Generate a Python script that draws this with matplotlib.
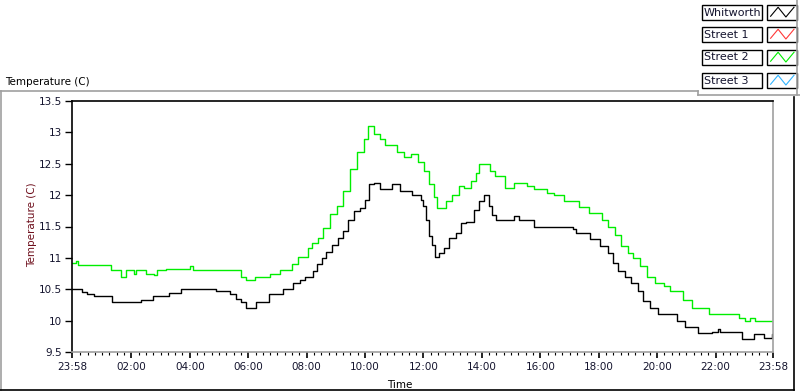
import matplotlib
matplotlib.use("Agg")
import matplotlib.pyplot as plt
from matplotlib.patches import Rectangle
from matplotlib.lines import Line2D

# Data: hours since midnight, temperature in C
whit_t = [-0.03, 0.32, 0.49, 0.72, 1.33, 2.33, 2.73, 3.30, 3.70, 4.91, 5.36, 5.59,
          5.77, 5.94, 6.26, 6.71, 7.20, 7.54, 7.77, 7.94, 8.23, 8.34, 8.52, 8.65,
          8.86, 9.09, 9.26, 9.43, 9.61, 9.83, 10.01, 10.12, 10.29, 10.52, 10.92,
          11.21, 11.61, 11.90, 11.98, 12.07, 12.18, 12.30, 12.41, 12.53, 12.70,
          12.87, 13.10, 13.27, 13.45, 13.73, 13.90, 14.08, 14.25, 14.36, 14.48,
          15.11, 15.28, 15.80, 17.11, 17.23, 17.69, 18.03, 18.32, 18.49, 18.66,
          18.89, 19.12, 19.35, 19.52, 19.75, 20.04, 20.67, 20.95, 21.41, 21.87,
          22.10, 22.16, 22.90, 23.30, 23.65, 23.93, 23.97]
whit_v = [10.5, 10.45, 10.42, 10.4, 10.3, 10.33, 10.4, 10.44, 10.5, 10.47, 10.42, 10.35,
          10.3, 10.2, 10.3, 10.42, 10.5, 10.6, 10.65, 10.7, 10.79, 10.9, 11.0, 11.1,
          11.2, 11.32, 11.43, 11.6, 11.75, 11.8, 11.93, 12.18, 12.2, 12.1, 12.18,
          12.07, 12.0, 11.93, 11.82, 11.6, 11.35, 11.2, 11.01, 11.08, 11.16,
          11.32, 11.4, 11.55, 11.57, 11.76, 11.9, 12.0, 11.82, 11.69, 11.6,
          11.66, 11.6, 11.5, 11.46, 11.4, 11.3, 11.19, 11.08, 10.92, 10.79,
          10.7, 10.6, 10.48, 10.31, 10.2, 10.11, 10.0, 9.9, 9.8, 9.82,
          9.87, 9.82, 9.7, 9.78, 9.72, 9.78, 9.78]

st2_t = [-0.03, 0.09, 0.18, 1.30, 1.64, 1.81, 2.10, 2.16, 2.50, 2.79, 2.87, 3.19,
         3.99, 4.10, 5.77, 5.94, 6.22, 6.74, 7.08, 7.49, 7.71, 8.06, 8.17, 8.40,
         8.57, 8.80, 9.03, 9.26, 9.49, 9.72, 9.95, 10.10, 10.32, 10.52, 10.69,
         11.10, 11.32, 11.59, 11.82, 12.01, 12.18, 12.36, 12.47, 12.76, 12.99,
         13.22, 13.39, 13.62, 13.79, 13.90, 14.28, 14.45, 14.80, 15.11, 15.53,
         15.77, 16.23, 16.48, 16.80, 17.32, 17.66, 18.12, 18.32, 18.55, 18.78,
         19.01, 19.18, 19.41, 19.67, 19.92, 20.24, 20.44, 20.87, 21.18, 21.76,
         22.82, 23.02, 23.19, 23.36, 23.97]
st2_v = [10.92, 10.95, 10.89, 10.81, 10.7, 10.8, 10.74, 10.8, 10.75, 10.72, 10.8, 10.83,
         10.87, 10.8, 10.7, 10.65, 10.7, 10.75, 10.8, 10.9, 11.01, 11.16, 11.23, 11.32,
         11.48, 11.7, 11.83, 12.06, 12.42, 12.69, 12.9, 13.1, 12.98, 12.89, 12.8,
         12.69, 12.61, 12.66, 12.53, 12.39, 12.18, 11.97, 11.8, 11.9, 12.0,
         12.14, 12.11, 12.22, 12.36, 12.5, 12.39, 12.3, 12.11, 12.2, 12.14,
         12.1, 12.04, 12.0, 11.9, 11.81, 11.71, 11.6, 11.5, 11.37, 11.19,
         11.08, 11.0, 10.87, 10.7, 10.6, 10.55, 10.48, 10.33, 10.2, 10.11,
         10.04, 10.0, 10.04, 10.0, 10.0]

names = ['Whitworth', 'Street 1', 'Street 2', 'Street 3']
colors = ['black', '#ff3838', '#00ee00', '#30b4ff']

xticks = [-0.033, 2, 4, 6, 8, 10, 12, 14, 16, 18, 20, 22, 23.967]
xlabels = ['23:58', '02:00', '04:00', '06:00', '08:00', '10:00', '12:00',
           '14:00', '16:00', '18:00', '20:00', '22:00', '23:58']
yticks = [9.5, 10, 10.5, 11, 11.5, 12, 12.5, 13, 13.5]
ylabels = ['9.5', '10', '10.5', '11', '11.5', '12', '12.5', '13', '13.5']

W, H = 800, 392
def fx(px):
    return px / W
def fy(py):
    return 1 - py / H

plt.rcParams['font.family'] = 'DejaVu Sans'
fig = plt.figure(figsize=(8, 3.92), dpi=100)
ax = fig.add_axes([fx(72), fy(352), fx(773) - fx(72), fy(101) - fy(352)])

ax.plot(whit_t, whit_v, color=colors[0], lw=1.0, drawstyle='steps-post')
ax.plot(st2_t, st2_v, color=colors[2], lw=1.0, drawstyle='steps-post')

ax.set_xlim(-0.033, 23.967)
ax.set_ylim(9.5, 13.5)
ax.set_xticks(xticks)
ax.set_xticklabels(xlabels)
ax.set_xticks([i * 0.25 for i in range(1, 96) if i % 8 != 0], minor=True)
ax.set_yticks(yticks)
ax.set_yticklabels(ylabels)
ax.tick_params(axis='both', labelsize=7.5, labelcolor='#14142e', color='black')
ax.tick_params(axis='y', length=5, width=1, pad=2)
ax.tick_params(axis='x', which='major', length=4, width=1.2, pad=3)
ax.tick_params(axis='x', which='minor', length=2.5, width=0.8)

ax.spines['left'].set_color('black')
ax.spines['top'].set_color('black')
ax.spines['right'].set_color('#a0a0a0')
ax.spines['bottom'].set_color('#a0a0a0')
for s in ax.spines.values():
    s.set_linewidth(1.2)

fig.text(fx(400), fy(385), 'Time', ha='center', va='center', fontsize=7.5)
fig.text(fx(32), fy(225), 'Temperature (C)', rotation=90, ha='center',
         va='center', fontsize=7.5, color='#6e0f1c')
fig.text(fx(5), fy(82), 'Temperature (C)', ha='left', va='center', fontsize=7.5)

# panel frame
gray = '#a0a0a0'
frame = [((0, 91), (698, 91), gray), ((698, 91), (698, 95), gray),
         ((698, 95), (800, 95), gray), ((1, 91), (1, 390), gray),
         ((797, 0), (797, 95), gray), ((0, 390), (794, 390), 'black'),
         ((794, 97), (794, 390), 'black')]
for (x0, y0), (x1, y1), c in frame:
    fig.add_artist(Line2D([fx(x0), fx(x1)], [fy(y0), fy(y1)], color=c, lw=1.2,
                          transform=fig.transFigure))

# legend
zig_x = [0.12, 0.37, 0.63, 0.9]
zig_y = [0.25, 0.85, 0.2, 0.85]
tops = [5, 27, 50, 73]
for name, c, top in zip(names, colors, tops):
    fig.add_artist(Rectangle((fx(702), fy(top + 15)), fx(60), 15 / H, fill=False,
                             ec='black', lw=1.0, transform=fig.transFigure))
    fig.text(fx(704), fy(top + 7.5), name, ha='left', va='center', fontsize=8,
             color='#14142e')
    fig.add_artist(Rectangle((fx(767), fy(top + 15)), fx(30), 15 / H, fill=False,
                             ec='black', lw=1.0, transform=fig.transFigure))
    fig.add_artist(Line2D([fx(767 + 30 * z) for z in zig_x],
                          [fy(top + 15 - 15 * z) for z in zig_y],
                          color=c, lw=0.8, transform=fig.transFigure))

fig.savefig('out.png', dpi=100)
